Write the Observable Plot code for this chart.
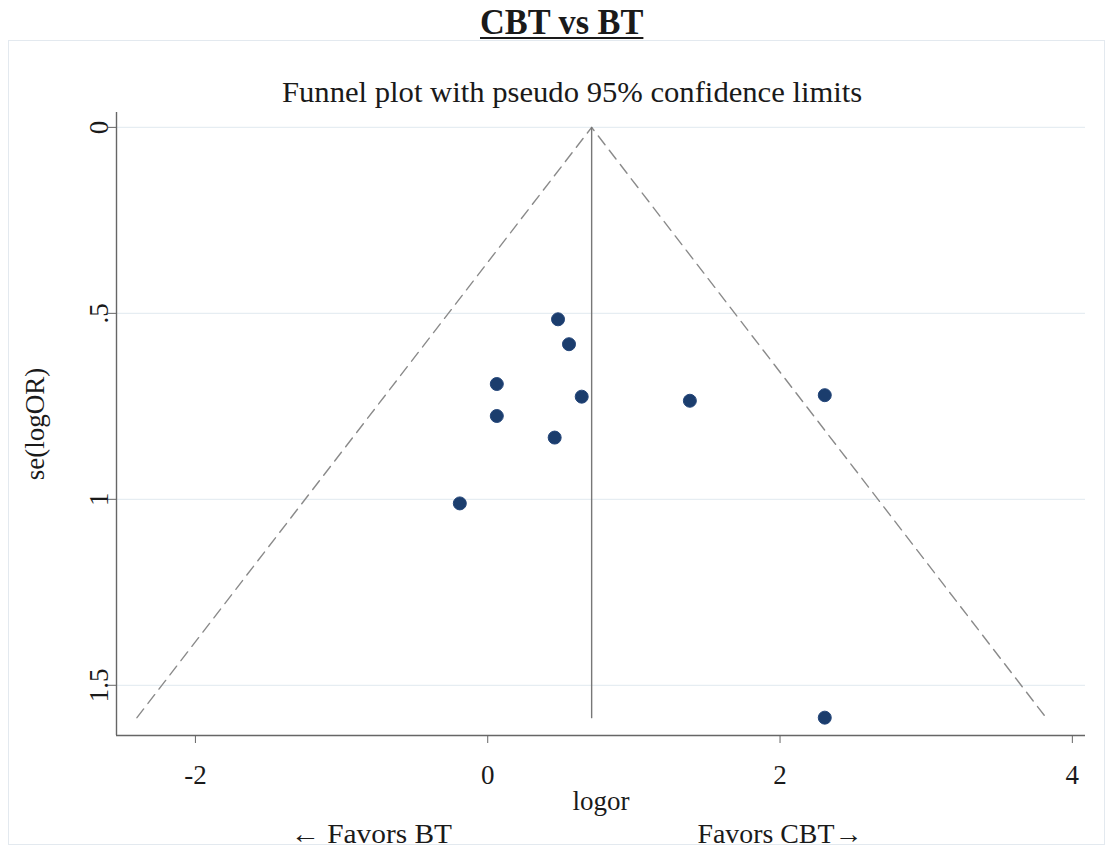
<!DOCTYPE html>
<html><head><meta charset="utf-8">
<script src="https://cdn.jsdelivr.net/npm/d3@7"></script>
<script src="https://cdn.jsdelivr.net/npm/@observablehq/plot@0.6"></script>
<style>
body{margin:0;background:#fff;width:1110px;height:850px;position:relative;overflow:hidden;font-family:"Liberation Serif","Times New Roman",serif;color:#1a1a1a;}
#frame{position:absolute;left:8px;top:40px;width:1097px;height:805px;border:1px solid #e3e9ef;box-sizing:border-box;}
.ht{position:absolute;white-space:nowrap;line-height:1;transform-origin:center center;}
#title{font-weight:bold;font-size:36px;text-decoration:underline;text-decoration-thickness:2px;text-underline-offset:3px;}
#subtitle{font-size:30px;}
.cap{font-size:27px;}
#chart{position:absolute;top:100px;left:0;}
#chart svg{font-family:"Liberation Serif","Times New Roman",serif;}
</style></head>
<body>
<div id="frame"></div>
<div id="title" class="ht">CBT vs BT</div>
<div id="subtitle" class="ht">Funnel plot with pseudo 95% confidence limits</div>
<div id="chart"></div>
<div id="capL" class="ht cap">← Favors BT</div>
<div id="capR" class="ht cap">Favors CBT→</div>
<script>
// Study estimates
const logOR   = [0.481, 0.556, 0.062, 0.643, 0.062, 0.458, -0.191, 1.383, 2.306, 2.306];
const seLogOR = [0.516, 0.583, 0.690, 0.724, 0.776, 0.834, 1.011, 0.735, 0.720, 1.587];
// Pooled estimate line and pseudo 95% limits
const pooledX = [0.711, 0.711];
const pooledSe = [0, 1.587];
const funnelX = [-2.40, 0.711, 3.82];
const funnelSe = [1.587, 0, 1.587];
// Ticks
const xTicks = [-2, 0, 2, 4];
const xTickLabels = ["-2", "0", "2", "4"];
const yTicks = [0, 0.5, 1, 1.5];
const yTickLabels = ["0", ".5", "1", "1.5"];
const xDomain = [-2.54, 4.09];
const yDomain = [-0.04, 1.635];

const points = logOR.map((x, i) => ({x, y: seLogOR[i]}));
const pooled = pooledX.map((x, i) => ({x, y: pooledSe[i]}));
const funnel = funnelX.map((x, i) => ({x, y: funnelSe[i]}));

const chart = Plot.plot({
  width: 1110,
  height: 730,
  marginTop: 12,
  marginBottom: 95,
  marginLeft: 116,
  marginRight: 25,
  style: {fontFamily: "'Liberation Serif', 'Times New Roman', serif", fontSize: "27px", color: "#1a1a1a", background: "transparent", overflow: "visible"},
  x: {domain: xDomain, label: null},
  y: {domain: yDomain, reverse: true, label: null},
  marks: [
    Plot.ruleY(yTicks, {stroke: "#e6edf2", strokeWidth: 1.2}),
    Plot.line(funnel, {x: "x", y: "y", stroke: "#8a8a8a", strokeWidth: 1.4, strokeDasharray: "11,7"}),
    Plot.line(pooled, {x: "x", y: "y", stroke: "#777", strokeWidth: 1.4}),
    Plot.dot(points, {x: "x", y: "y", r: 6.5, fill: "#1b3d6d", stroke: "#24467a", strokeWidth: 1}),
    Plot.ruleX([xDomain[0]], {stroke: "#666", strokeWidth: 1.4}),
    Plot.ruleY([yDomain[1]], {stroke: "#666", strokeWidth: 1.4}),
    Plot.axisX({ticks: xTicks, tickFormat: d => xTickLabels[xTicks.indexOf(d)], tickSize: 8, tickPadding: 21, stroke: "#666", label: "logor", labelArrow: "none", labelAnchor: "center", labelOffset: 74}),
    Plot.axisY({ticks: yTicks, tickFormat: d => yTickLabels[yTicks.indexOf(d)], tickSize: 8, tickPadding: 1, tickRotate: -90, stroke: "#666", label: "se(logOR)", labelArrow: "none", labelAnchor: "center", labelOffset: 92})
  ]
});
document.getElementById("chart").appendChild(chart);

function place(id, cx, cy, targetW) {
  const el = document.getElementById(id);
  const w = el.offsetWidth, h = el.offsetHeight;
  el.style.left = (cx - w / 2) + "px";
  el.style.top = (cy - h / 2) + "px";
  if (targetW) el.style.transform = `scaleX(${targetW / w})`;
}
place("title", 561, 22, 163);
place("subtitle", 572, 92, 580);
place("capL", 371, 834, 162);
place("capR", 780, 834, 165);
</script>
</body></html>
